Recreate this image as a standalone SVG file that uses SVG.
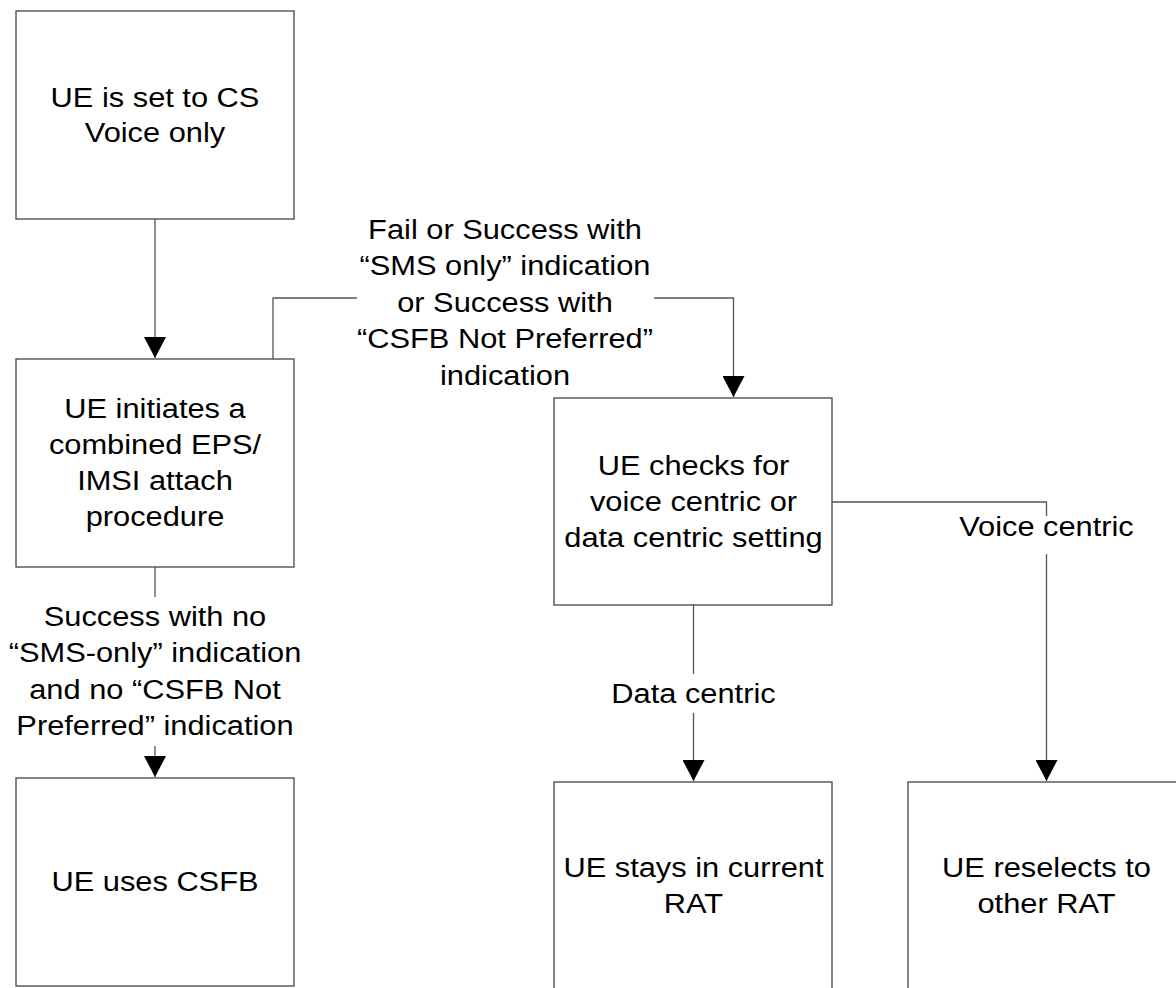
<svg xmlns="http://www.w3.org/2000/svg" width="1176" height="988" viewBox="0 0 1176 988">
<style>
.box{fill:#fff;stroke:#444;stroke-width:1.3}
.con{fill:none;stroke:#555;stroke-width:1.3}
text{font-family:"Liberation Sans",Arial,sans-serif;font-size:28px;fill:#000;text-anchor:middle}
</style>
<defs>
<marker id="ah" markerUnits="userSpaceOnUse" markerWidth="22" markerHeight="22" refX="21" refY="11" orient="auto">
<path d="M0,0 L21,11 L0,22 Z" fill="#000"/>
</marker>
</defs>
<rect width="1176" height="988" fill="#fff"/>
<g id="connectors">
<path class="con" d="M155,219 V358" marker-end="url(#ah)"/>
<path class="con" d="M273,359 V298 H357"/>
<path class="con" d="M654,298 H733.5 V397" marker-end="url(#ah)"/>
<path class="con" d="M155,567 V597"/>
<path class="con" d="M155,746 V777" marker-end="url(#ah)"/>
<path class="con" d="M693.5,605 V674"/>
<path class="con" d="M693.5,713 V781" marker-end="url(#ah)"/>
<path class="con" d="M832,502 H1046.5 V516"/>
<path class="con" d="M1046.5,554 V781" marker-end="url(#ah)"/>
</g>
<g id="label-fail" transform="matrix(1.1 0 0 1 -50.5 0)">
<text x="505" y="239">Fail or Success with</text>
<text x="505" y="275.5">“SMS only” indication</text>
<text x="505" y="312">or Success with</text>
<text x="505" y="348.5">“CSFB Not Preferred”</text>
<text x="505" y="385">indication</text>
</g>
<g id="label-success" transform="matrix(1.1 0 0 1 -15.5 0)">
<text x="155" y="626">Success with no</text>
<text x="155" y="662.5">“SMS-only” indication</text>
<text x="155" y="699">and no “CSFB Not</text>
<text x="155" y="735.5">Preferred” indication</text>
</g>
<g id="label-voice" transform="matrix(1.1 0 0 1 -104.65 0)">
<text x="1046.5" y="536">Voice centric</text>
</g>
<g id="label-data" transform="matrix(1.1 0 0 1 -69.35 0)">
<text x="693.5" y="703">Data centric</text>
</g>
<g id="node-cs-voice">
<rect class="box" x="16" y="11" width="278" height="208"/>
<g transform="matrix(1.1 0 0 1 -15.5 0)">
<text x="155" y="106.7">UE is set to CS</text>
<text x="155" y="141.7">Voice only</text>
</g>
</g>
<g id="node-attach">
<rect class="box" x="16" y="359" width="278" height="208"/>
<g transform="matrix(1.1 0 0 1 -15.5 0)">
<text x="155" y="418">UE initiates a</text>
<text x="155" y="454">combined EPS/</text>
<text x="155" y="490">IMSI attach</text>
<text x="155" y="526">procedure</text>
</g>
</g>
<g id="node-check">
<rect class="box" x="554" y="398" width="278" height="207"/>
<g transform="matrix(1.1 0 0 1 -69.35 0)">
<text x="693.5" y="475.5">UE checks for</text>
<text x="693.5" y="511.5">voice centric or</text>
<text x="693.5" y="547.5">data centric setting</text>
</g>
</g>
<g id="node-csfb">
<rect class="box" x="16" y="778" width="278" height="208"/>
<g transform="matrix(1.1 0 0 1 -15.5 0)">
<text x="155" y="891">UE uses CSFB</text>
</g>
</g>
<g id="node-stay">
<rect class="box" x="554" y="782" width="278" height="208"/>
<g transform="matrix(1.1 0 0 1 -69.35 0)">
<text x="693.5" y="877.5">UE stays in current</text>
<text x="693.5" y="913.5">RAT</text>
</g>
</g>
<g id="node-reselect">
<rect class="box" x="908" y="782" width="278" height="208"/>
<g transform="matrix(1.1 0 0 1 -104.65 0)">
<text x="1046.5" y="877.5">UE reselects to</text>
<text x="1046.5" y="913.5">other RAT</text>
</g>
</g>
</svg>
